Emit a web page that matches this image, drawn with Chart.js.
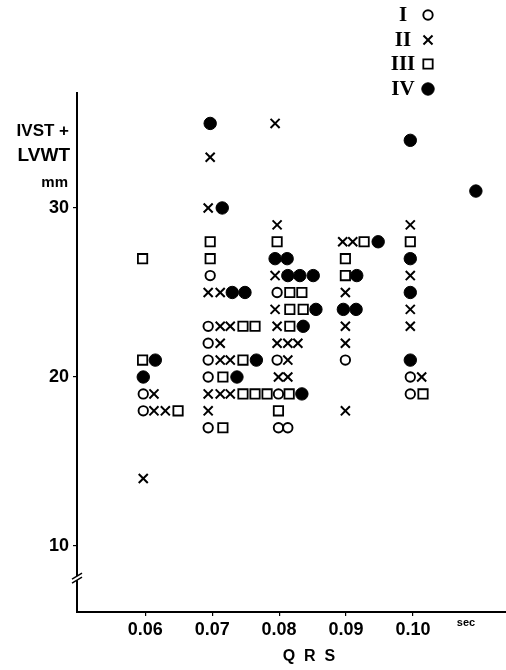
<!DOCTYPE html>
<html>
<head>
<meta charset="utf-8">
<script src="https://cdn.jsdelivr.net/npm/chart.js@4/dist/chart.umd.min.js"></script>
<style>
  html, body { margin: 0; padding: 0; background: #fff; }
  #wrap { width: 506px; height: 670px; position: relative; }
</style>
</head>
<body>
<div id="wrap"><canvas id="qrsChart"></canvas></div>
<script>
// groups I-IV: QRS duration (sec) vs IVST + LVWT (mm)
const qrs1 = [0.0597, 0.0597, 0.0697, 0.0694, 0.0694, 0.0694, 0.0694, 0.0694,
    0.0797, 0.0797, 0.0799, 0.0799, 0.0813, 0.0899, 0.0996, 0.0996];
const wall1 = [19, 18, 26, 23, 22, 21, 20, 17, 25, 21, 19, 17, 17, 21, 20, 19];

const qrs2 = [0.0613, 0.0613, 0.0630, 0.0597,
    0.0697, 0.0694, 0.0694, 0.0712, 0.0712, 0.0727, 0.0712, 0.0712, 0.0727, 0.0694, 0.0712, 0.0727, 0.0694,
    0.0794, 0.0797, 0.0794, 0.0794, 0.0797, 0.0797, 0.0813, 0.0828, 0.0813, 0.0799, 0.0813,
    0.0895, 0.0910, 0.0899, 0.0899, 0.0899, 0.0899,
    0.0996, 0.0996, 0.0996, 0.0996, 0.1013];
const wall2 = [19, 18, 18, 14,
    33, 30, 25, 25, 23, 23, 22, 21, 21, 19, 19, 19, 18,
    35, 29, 26, 24, 23, 22, 22, 22, 21, 20, 20,
    28, 28, 25, 23, 22, 18,
    29, 26, 24, 23, 20];

const qrs3 = [0.0596, 0.0596, 0.0649,
    0.0697, 0.0697, 0.0746, 0.0764, 0.0746, 0.0716, 0.0746, 0.0764, 0.0782, 0.0716,
    0.0797, 0.0816, 0.0834, 0.0816, 0.0836, 0.0816, 0.0815, 0.0799,
    0.0927, 0.0899, 0.0899,
    0.0996, 0.1015];
const wall3 = [27, 21, 18,
    28, 27, 23, 23, 21, 20, 19, 19, 19, 17,
    28, 25, 25, 24, 24, 23, 19, 18,
    28, 27, 26,
    28, 19];

const qrs4 = [0.0615, 0.0597,
    0.0697, 0.0715, 0.0730, 0.0749, 0.0766, 0.0737,
    0.0794, 0.0812, 0.0813, 0.0831, 0.0851, 0.0855, 0.0836, 0.0834,
    0.0948, 0.0916, 0.0896, 0.0915,
    0.0996, 0.0996, 0.0996, 0.0996, 0.1094];
const wall4 = [21, 20,
    35, 30, 25, 25, 21, 20,
    27, 27, 26, 26, 26, 24, 23, 19,
    28, 26, 24, 24,
    34, 27, 25, 21, 31];

const groupNames = ['I', 'II', 'III', 'IV'];
const yTicks = [10, 20, 30];
const xTicks = [0.06, 0.07, 0.08, 0.09, 0.10];

const toPoints = (xs, ys) => xs.map((x, i) => ({ x: x, y: ys[i] }));

// marker look per group
const markers = [
    { pointStyle: 'circle', radius: 4.7, borderWidth: 1.9, backgroundColor: '#fff' },
    { pointStyle: 'crossRot', radius: 6.4, borderWidth: 2, backgroundColor: '#000' },
    { pointStyle: 'rect', radius: 6.6, borderWidth: 1.8, backgroundColor: '#fff' },
    { pointStyle: 'circle', radius: 6.2, borderWidth: 1, backgroundColor: '#000' }
];

const series = [toPoints(qrs1, wall1), toPoints(qrs2, wall2), toPoints(qrs3, wall3), toPoints(qrs4, wall4)];

const datasets = series.map((pts, i) => ({
    label: groupNames[i],
    data: pts,
    pointStyle: markers[i].pointStyle,
    pointRadius: markers[i].radius,
    pointBorderWidth: markers[i].borderWidth,
    pointBackgroundColor: markers[i].backgroundColor,
    pointBorderColor: '#000',
    showLine: false
}));

const textFont = "'Liberation Sans', Arial, sans-serif";

const extras = {
    id: 'extras',
    afterDraw(chart) {
        const ctx = chart.ctx;
        const xs = chart.scales.x, ys = chart.scales.y;
        const ax = xs.left;
        ctx.save();

        // axis break
        const by = ys.getPixelForValue(8.1);
        ctx.fillStyle = '#fff';
        ctx.fillRect(ax - 3, by - 2, 6, 4);
        ctx.strokeStyle = '#000';
        ctx.lineWidth = 1.4;
        [-2, 2].forEach(d => {
            ctx.beginPath();
            ctx.moveTo(ax - 5, by + d + 3);
            ctx.lineTo(ax + 5, by + d - 3);
            ctx.stroke();
        });

        // y title
        ctx.fillStyle = '#000';
        ctx.textAlign = 'right';
        ctx.textBaseline = 'middle';
        ctx.font = 'bold 17px ' + textFont;
        ctx.fillText('IVST +', 69, 131);
        ctx.font = 'bold 19px ' + textFont;
        ctx.fillText('LVWT', 70, 156);
        ctx.font = 'bold 15px ' + textFont;
        ctx.fillText('mm', 68, 183);

        // x unit + title
        ctx.textAlign = 'center';
        ctx.font = 'bold 11px ' + textFont;
        ctx.fillText('sec', 466, 623);
        ctx.font = 'bold 16px ' + textFont;
        ctx.fillText('Q  R  S', 309, 657);

        // legend
        const ly = [15, 40, 64, 89];
        groupNames.forEach((name, i) => {
            ctx.fillStyle = '#000';
            ctx.font = 'bold 21px "Liberation Serif", "DejaVu Serif", serif';
            ctx.textAlign = 'center';
            ctx.fillText(name, 403, ly[i] + 1);
            const m = markers[i];
            ctx.fillStyle = m.backgroundColor;
            ctx.strokeStyle = '#000';
            ctx.lineWidth = m.borderWidth;
            Chart.helpers.drawPoint(ctx, {
                pointStyle: m.pointStyle, radius: m.radius,
                borderWidth: m.borderWidth, rotation: 0
            }, 428, ly[i]);
        });
        ctx.restore();
    }
};

const config = {
    type: 'scatter',
    data: { datasets: datasets },
    options: {
        responsive: false,
        animation: false,
        events: [],
        layout: { autoPadding: false, padding: { top: 93, left: 0, right: 0, bottom: 0 } },
        plugins: {
            legend: { display: false },
            tooltip: { enabled: false }
        },
        scales: {
            x: {
                type: 'linear',
                min: 0.0498,
                max: 0.1139,
                afterBuildTicks: s => { s.ticks = xTicks.map(v => ({ value: v })); },
                afterFit: s => { s.height = 58; },
                grid: { display: true, drawOnChartArea: false, drawTicks: true, tickLength: 4, color: '#000', lineWidth: 1.2 },
                border: { display: true, color: '#000', width: 2 },
                ticks: {
                    padding: 3,
                    color: '#000',
                    font: { family: textFont, size: 18, weight: 'bold' },
                    callback: v => v.toFixed(2)
                }
            },
            y: {
                type: 'linear',
                min: 6.1,
                max: 36.8,
                afterBuildTicks: s => { s.ticks = yTicks.map(v => ({ value: v })); },
                afterFit: s => { s.width = 77; },
                grid: { display: true, drawOnChartArea: false, drawTicks: true, tickLength: 4, color: '#000', lineWidth: 1.2 },
                border: { display: true, color: '#000', width: 2 },
                ticks: {
                    padding: 4,
                    color: '#000',
                    font: { family: textFont, size: 18, weight: 'bold' }
                }
            }
        }
    },
    plugins: [extras]
};

const cv = document.getElementById('qrsChart');
cv.width = 506;
cv.height = 670;
new Chart(cv, config);
</script>
</body>
</html>
